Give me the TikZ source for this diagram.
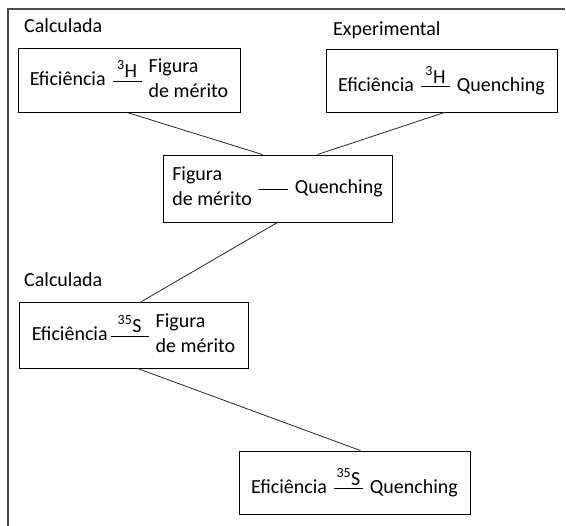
\documentclass[tikz,border=0pt]{standalone}
\usepackage{fontspec}
\setmainfont{Carlito}

% isotope label over a short bar
\newcommand{\isofrac}[2][1.45em]{\hspace{.35em}\rlap{\makebox[#1]{\raisebox{.4em}{#2}}}\rule[.2em]{#1}{.6pt}\hspace{.35em}}
\newcommand{\figmerito}{\begin{tabular}{@{}l@{}}Figura\\de mérito\end{tabular}}

\tikzset{
  stepbox/.style={draw, line width=0.9pt, minimum width=229pt, minimum height=65pt, inner sep=0pt},
  tag/.style={anchor=base west, inner sep=0pt},
  link/.style={draw=black!85, line width=0.8pt},
  frame/.style={draw=black!70, line width=1.4pt}
}

\begin{document}
\begin{tikzpicture}[x=1pt, y=-1pt, every node/.style={font=\fontsize{20}{25}\selectfont}]
\useasboundingbox (0,0) rectangle (566,526);
\draw[frame] (565,9) -- (8,9) -- (8,526);

\node[tag] (calc1) at (24,33) {Calculada};
\node[tag] (expt) at (333,36) {Experimental};
\node[tag] (calc2) at (24,287) {Calculada};

\node[stepbox, minimum width=222pt, minimum height=64pt] (E3F) at (129,80) {Eficiência\isofrac{\textsuperscript{3}H}\figmerito};
\node[stepbox, minimum width=231pt, minimum height=63pt] (E3Q) at (441.5,80.5) {Eficiência\isofrac{\textsuperscript{3}H}Quenching};
\node[stepbox, minimum height=67pt] (FQ) at (277.5,188.5) {\figmerito\isofrac{}Quenching};
\node[stepbox, minimum height=66pt] (E35F) at (133.5,335) {Eficiência\hspace{-.2em}\isofrac[1.9em]{\textsuperscript{35}S}\figmerito};
\node[stepbox, minimum width=231pt, minimum height=63pt] (E35Q) at (354.5,482.5) {Eficiência\isofrac{\textsuperscript{35}S}Quenching};

\draw[link] ([xshift=-2pt]E3F.south) -- ([xshift=-15pt]FQ.north);
\draw[link] ([xshift=3pt]E3Q.south) -- ([xshift=40pt]FQ.north);
\draw[link] (FQ.south) -- ([xshift=8pt]E35F.north);
\draw[link] ([xshift=4pt]E35F.south) -- ([xshift=6pt]E35Q.north);
\end{tikzpicture}
\end{document}
